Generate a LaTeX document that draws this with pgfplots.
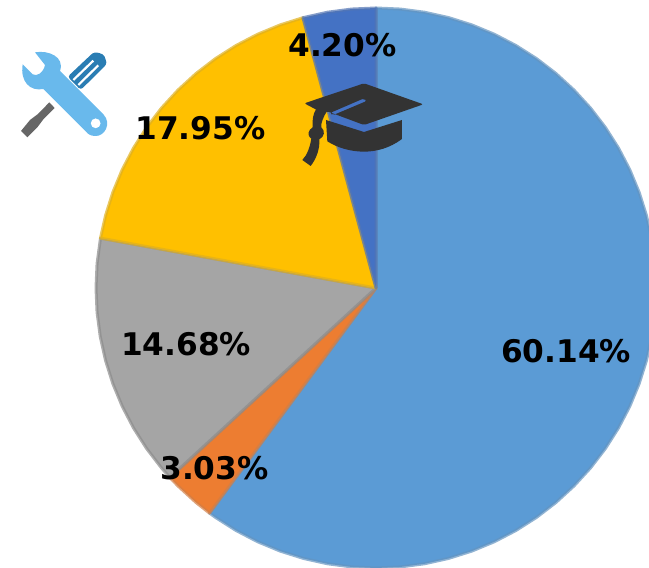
\documentclass[border=0pt]{standalone}
\usepackage{fontspec}
\setmainfont{DejaVu Sans}
\usepackage{pgfplots}
\pgfplotsset{compat=1.18}

% shares clockwise from the top: 60.14, 3.03, 14.68, 17.95, 4.20
\definecolor{pieblue}{HTML}{5B9BD5}
\definecolor{pieorange}{HTML}{ED7D31}
\definecolor{piegray}{HTML}{A5A5A5}
\definecolor{piegold}{HTML}{FFC000}
\definecolor{piedark}{HTML}{4472C4}
\definecolor{capdark}{HTML}{333333}
\definecolor{wrench}{HTML}{69B9EC}
\definecolor{driver}{HTML}{2A7DB3}
\definecolor{blade}{HTML}{666666}

\begin{document}
\begin{tikzpicture}
\useasboundingbox (0,0) rectangle (649pt,568pt);
\begin{axis}[
	at={(0,0)}, anchor=south west,
	width=649pt, height=568pt, scale only axis,
	xmin=-376, xmax=273,
	ymin=-280, ymax=288,
	hide axis,
	slice/.style={data cs=polar, no markers, line width=3pt, line join=round, draw opacity=0.7},
]

% slices as (angle, radius), angle counted the usual way
\addplot[slice, fill=pieblue, draw=pieblue!75!gray] coordinates {
	(0,0) (90,280) (85,280) (80,280) (75,280) (70,280) (65,280) (60,280) (55,280)
	(50,280) (45,280) (40,280) (35,280) (30,280) (25,280) (20,280) (15,280) (10,280)
	(5,280) (0,280) (-5,280) (-10,280) (-15,280) (-20,280) (-25,280) (-30,280)
	(-35,280) (-40,280) (-45,280) (-50,280) (-55,280) (-60,280) (-65,280) (-70,280)
	(-75,280) (-80,280) (-85,280) (-90,280) (-95,280) (-100,280) (-105,280)
	(-110,280) (-115,280) (-120,280) (-125,280) (-126.5,280)
} -- cycle;

\addplot[slice, fill=pieorange, draw=pieorange!75!gray] coordinates {
	(0,0) (-126.5,280) (-130,280) (-135,280) (-137.41,280)
} -- cycle;

\addplot[slice, fill=piegray, draw=piegray!85!black] coordinates {
	(0,0) (-137.41,280) (-140,280) (-145,280) (-150,280) (-155,280) (-160,280)
	(-165,280) (-170,280) (-175,280) (-180,280) (-185,280) (-190.26,280)
} -- cycle;

\addplot[slice, fill=piegold, draw=piegold!75!gray] coordinates {
	(0,0) (-190.26,280) (-195,280) (-200,280) (-205,280) (-210,280) (-215,280)
	(-220,280) (-225,280) (-230,280) (-235,280) (-240,280) (-245,280) (-250,280)
	(-254.88,280)
} -- cycle;

\addplot[slice, fill=piedark, draw=piedark!75!gray] coordinates {
	(0,0) (-254.88,280) (-260,280) (-265,280) (-270,280)
} -- cycle;

\end{axis}

% graduation cap, in pixels of a 3x crop at (290,70)
\begin{scope}[shift={(290pt,498pt)}, x=0.3333pt, y=-0.3333pt]
	\fill[capdark, even odd rule, rounded corners=2pt]
		(43,100) -- (222,40) -- (400,103) -- (222,165) -- (112,124) -- (92,126) -- cycle
		(120,129) -- (222,85) -- (230,93) -- (128,136) -- cycle;
	\fill[capdark]
		(108,150) -- (222,186) -- (336,150) -- (336,207)
		.. controls (300,234) and (260,245) .. (222,245)
		.. controls (180,245) and (140,232) .. (112,214) -- cycle;
	\fill[capdark]
		(78,118) -- (112,122) .. controls (100,140) and (92,160) .. (94,172)
		.. controls (106,182) and (104,200) .. (88,208)
		.. controls (90,235) and (80,265) .. (62,288)
		-- (37,270) .. controls (52,255) and (60,230) .. (64,206)
		.. controls (50,198) and (54,180) .. (68,172)
		.. controls (66,150) and (70,130) .. (78,118) -- cycle;
\end{scope}

% tools, in pixels of a 3x crop at (10,40)
\begin{scope}[shift={(10pt,528pt)}, x=0.3333pt, y=-0.3333pt]
	\fill[driver, rounded corners=3pt]
		(173,110) -- (240,47) .. controls (255,33) and (280,40) .. (287,58)
		.. controls (290,70) and (285,78) .. (278,85) -- (212,150) -- cycle;
	\draw[white, line width=2.2pt] (190,120) -- (250,62) (205,135) -- (265,76);
	\fill[blade]
		(118,187) -- (134,204) -- (100,238) -- (82,262) -- (52,292)
		-- (33,273) -- (60,240) -- (84,222) -- cycle;
	\fill[wrench, even odd rule]
		(75,37) .. controls (115,30) and (165,50) .. (150,93)
		-- (281,224) .. controls (305,250) and (285,290) .. (255,288)
		.. controls (240,288) and (232,280) .. (229,276)
		-- (100,147) .. controls (60,155) and (30,125) .. (38,73)
		-- (68,103) .. controls (80,110) and (100,100) .. (105,75) -- cycle
		(272,250) arc[start angle=0, end angle=360, radius=15];
\end{scope}

% labels
\begin{scope}[shift={(0,568pt)}, x=1pt, y=-1pt, every node/.style={font=\fontsize{31.2pt}{33pt}\selectfont\bfseries, inner sep=0pt, text=black}]
	\node at (566,351.5) {60.14\%};
	\node at (214.5,468) {3.03\%};
	\node at (186,344) {14.68\%};
	\node at (200.5,128) {17.95\%};
	\node at (342.5,45) {4.20\%};
\end{scope}
\end{tikzpicture}
\end{document}
